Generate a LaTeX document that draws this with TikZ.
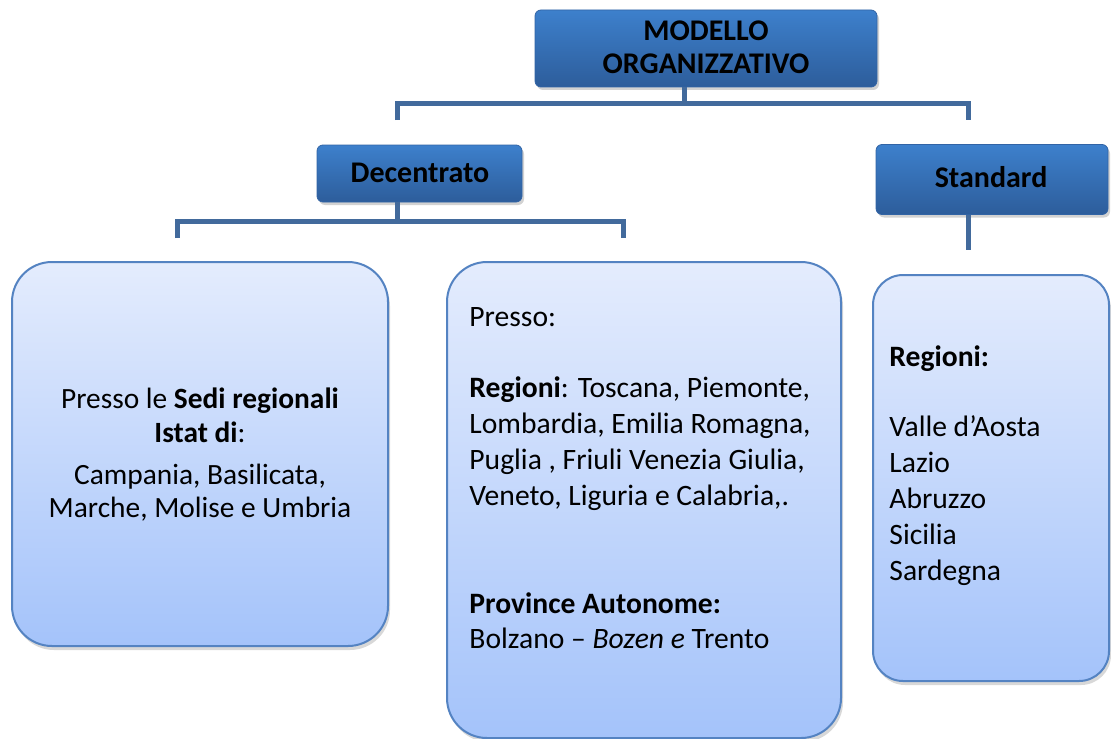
\documentclass[tikz,border=0pt]{standalone}
\usepackage{fontspec}
\setmainfont{Carlito}
\usetikzlibrary{shadows}
\definecolor{dbtop}{RGB}{61,128,204}
\definecolor{dbbot}{RGB}{45,93,155}
\definecolor{dbdraw}{RGB}{50,100,165}
\definecolor{lbtop}{RGB}{228,236,253}
\definecolor{lbbot}{RGB}{164,195,250}
\definecolor{lbdraw}{RGB}{84,131,194}
\definecolor{conn}{RGB}{66,106,156}
\begin{document}
\begin{tikzpicture}[x=0.5pt,y=-0.5pt,
  hdrbox/.style={rounded corners=3pt, top color=dbtop, bottom color=dbbot, draw=dbdraw, line width=0.4pt,
    drop shadow={shadow xshift=1pt, shadow yshift=-1.5pt, opacity=0.35}, inner sep=0pt},
  bigbox/.style={rounded corners=#1, top color=lbtop, bottom color=lbbot, draw=lbdraw, line width=1pt,
    drop shadow={shadow xshift=1pt, shadow yshift=-2pt, opacity=0.3}, inner sep=0pt},
  hdrtxt/.style={font=\bfseries\fontsize{15}{18}\selectfont, inner sep=0pt, anchor=base},
  bodytxt/.style={font=\fontsize{14.8}{18}\selectfont, inner sep=0pt, anchor=base west},
  ctrtxt/.style={font=\fontsize{14.7}{18}\selectfont, inner sep=0pt, anchor=base},
  connline/.style={draw=conn, line width=2.5pt}
]
\useasboundingbox (0,0) rectangle (1111,738);
\fill[white] (0,0) rectangle (1111,738);

% header boxes
\node[hdrbox, minimum width=171pt, minimum height=38.5pt] (top) at (706,48.5) {};
\node[hdrbox, minimum width=102.5pt, minimum height=28.5pt] (dec) at (419.5,173.5) {};
\node[hdrbox, minimum width=116pt, minimum height=35pt] (std) at (992,179.5) {};

\node[hdrtxt] (t1) at (706,41) {MODELLO};
\node[hdrtxt] (t2) at (706,74) {ORGANIZZATIVO};
\node[hdrtxt] (d1) at (420,182) {Decentrato};
\node[hdrtxt] (s1) at (991,187) {Standard};

% connectors
\coordinate (topbar) at (684,103);
\coordinate (decdrop) at (397,120);
\coordinate (stddrop) at (968,120);
\draw[connline] (topbar |- top.south) -- (topbar);
\draw[connline] (decdrop) -- (decdrop |- topbar) -- (stddrop |- topbar) -- (stddrop);

\coordinate (decbar) at (397,221);
\coordinate (leftdrop) at (177,238);
\coordinate (middrop) at (623,238);
\draw[connline] (decbar |- dec.south) -- (decbar);
\draw[connline] (leftdrop) -- (leftdrop |- decbar) -- (middrop |- decbar) -- (middrop);

\coordinate (stdend) at (968,250);
\draw[connline] (stdend |- std.south) -- (stdend);

% big boxes
\node[bigbox=20pt, minimum width=188pt, minimum height=192pt] (lbox) at (200,454) {};
\node[bigbox=20pt, minimum width=197pt, minimum height=238pt] (mbox) at (644,500) {};
\node[bigbox=15pt, minimum width=118pt, minimum height=203pt] (rbox) at (991,478) {};

% left box text
\node[ctrtxt] (la) at (200,408) {Presso le \textbf{Sedi regionali}};
\node[ctrtxt] (lb) at (200,442) {\textbf{Istat di}:};
\node[ctrtxt] (lc) at (200,484) {Campania, Basilicata,};
\node[ctrtxt] (ld) at (200,517) {Marche, Molise e Umbria};

% middle box text
\node[bodytxt] (ma) at (469,326) {Presso:};
\node[bodytxt] (mb) at (469,397) {\textbf{Regioni}: Toscana, Piemonte,};
\node[bodytxt] (mc) at (469,433) {Lombardia, Emilia Romagna,};
\node[bodytxt] (md) at (469,469) {Puglia , Friuli Venezia Giulia,};
\node[bodytxt] (me) at (469,505) {Veneto, Liguria e Calabria,.};
\node[bodytxt] (mf) at (469,613) {\textbf{Province Autonome:}};
\node[bodytxt] (mg) at (469,648) {Bolzano – \textit{Bozen e} Trento};

% right box text
\node[bodytxt] (ra) at (889,366) {\textbf{Regioni:}};
\node[bodytxt] (rb) at (889,436) {Valle d’Aosta};
\node[bodytxt] (rc) at (889,472) {Lazio};
\node[bodytxt] (rd) at (889,508) {Abruzzo};
\node[bodytxt] (re) at (889,544) {Sicilia};
\node[bodytxt] (rf) at (889,580) {Sardegna};
\end{tikzpicture}
\end{document}
